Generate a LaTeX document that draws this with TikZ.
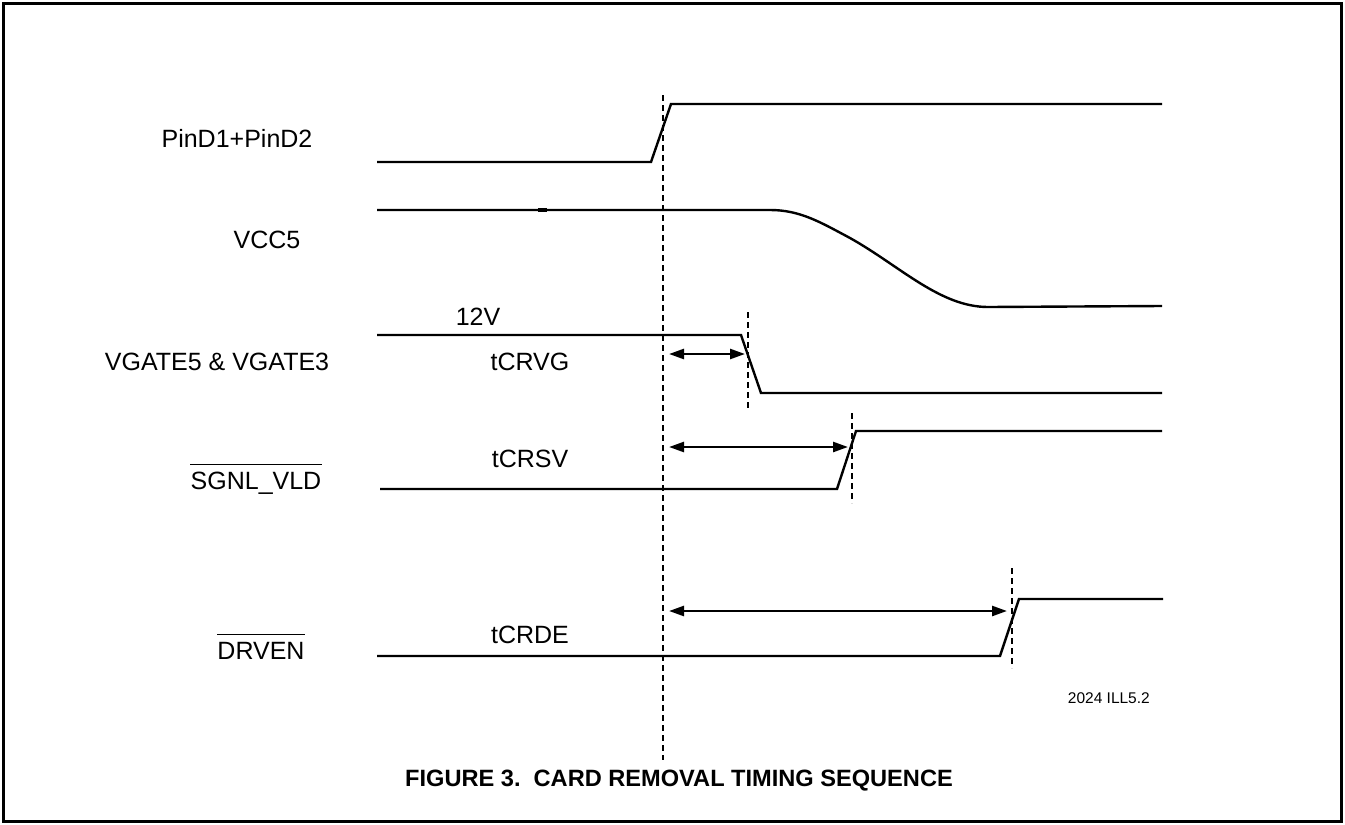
\documentclass[tikz,border=0pt]{standalone}
\usepackage{fontspec}
\setmainfont{Liberation Sans}
\usetikzlibrary{arrows.meta}
\begin{document}
\begin{tikzpicture}[x=1pt,y=-1pt,
  sig/.style={line width=2.4pt, line join=miter},
  marker/.style={line width=2pt, dash pattern=on 6pt off 4pt},
  span/.style={line width=2.5pt, {Triangle[length=15pt,width=10pt]}-{Triangle[length=15pt,width=10pt]}},
  lbl/.style={font=\fontsize{25}{30}\selectfont, inner sep=0pt, anchor=base},
  bar/.style={line width=1.6pt}
]
\useasboundingbox (0,0) rectangle (1345,825);
\draw[line width=3pt] (3.5,3.5) rectangle (1341.5,821.5);

% signal labels
\node[lbl] (lpin) at (237,147) {PinD1+PinD2};
\node[lbl] (lvcc) at (267,248) {VCC5};
\node[lbl] (lvg) at (217,370) {VGATE5 \& VGATE3};
\node[lbl] (lsg) at (256,489) {SGNL\_VLD};
\node[lbl] (ldr) at (261,659) {DRVEN};
\draw[bar] ([yshift=7pt]lsg.north west) -- ([yshift=7pt]lsg.north east);
\draw[bar] ([yshift=7pt]ldr.north west) -- ([yshift=7pt]ldr.north east);

% timing labels
\node[lbl] (l12) at (478,325) {12V};
\node[lbl] (tcrvg) at (530,370) {tCRVG};
\node[lbl] (tcrsv) at (530,467) {tCRSV};
\node[lbl] (tcrde) at (530,643) {tCRDE};
\node[font=\fontsize{15.5}{18}\selectfont, inner sep=0pt, anchor=base east] (ill) at (1150,703) {2024 ILL5.2};
\node[font=\bfseries\fontsize{23.6}{28}\selectfont, inner sep=0pt, anchor=base] (cap) at (679,786) {FIGURE 3.\ \ CARD REMOVAL TIMING SEQUENCE};

% waveforms
\draw[sig] (377,162) -- (651,162) -- (671,104) -- (1162,104);
\draw[sig] (377,210) -- (770,210) .. controls (800,210) and (820,222) .. (850,238)
  .. controls (900,266) and (940,307) .. (988,307) -- (1162,306);
\draw[line width=3.6pt] (538,210) -- (547,210);
\draw[sig] (377,335) -- (741,335) -- (761,393) -- (1162,393);
\draw[sig] (380,489) -- (837,489) -- (856,431) -- (1162,431);
\draw[sig] (377,656) -- (1000,656) -- (1019,599) -- (1163,599);

% reference markers
\coordinate (m0t) at (663,95);   \coordinate (m0b) at (663,760);
\coordinate (m1t) at (748,312);  \coordinate (m1b) at (748,408);
\coordinate (m2t) at (852,413);  \coordinate (m2b) at (852,503);
\coordinate (m3t) at (1012,568); \coordinate (m3b) at (1012,668);
\draw[marker] (m0t) -- (m0b);
\draw[marker] (m1t) -- (m1b);
\draw[marker] (m2t) -- (m2b);
\draw[marker] (m3t) -- (m3b);

% interval arrows
\coordinate (a1l) at (669,354); \coordinate (a1r) at (745,354);
\coordinate (a2l) at (669,447); \coordinate (a2r) at (848,447);
\coordinate (a3l) at (669,611); \coordinate (a3r) at (1007,611);
\draw[span] (a1l) -- (a1r);
\draw[span] (a2l) -- (a2r);
\draw[span] (a3l) -- (a3r);
\end{tikzpicture}
\end{document}
